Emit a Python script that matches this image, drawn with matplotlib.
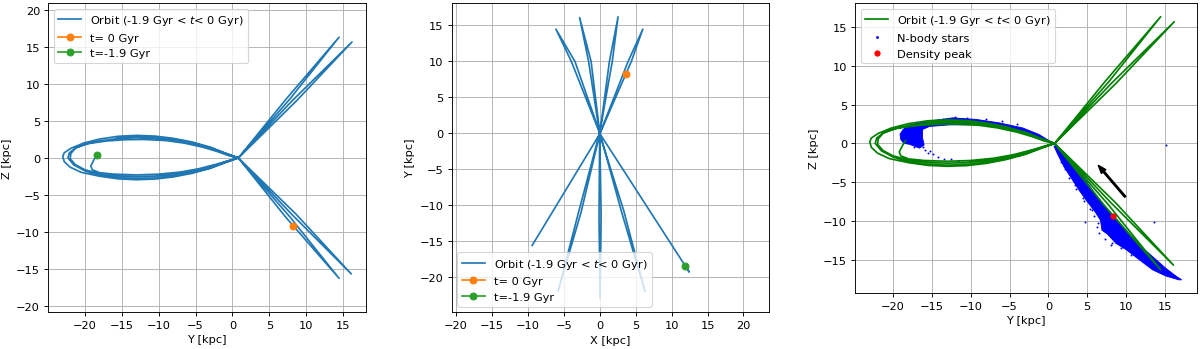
import matplotlib
matplotlib.use("Agg")
import matplotlib.pyplot as plt
from matplotlib.lines import Line2D

# ---------------- data ----------------
# Orbit projected on the Y-Z plane (kpc), in time order
orbit_yz_y = [
    # start hook + lower branch into the centre
    -18.4, -18.8, -19.2, -19.0, -18.0, -16.0, -13.0, -10.0, -7.0, -4.5, -2.0, 0.0, 0.8,
    # first excursion to Y>0, Z>0
    7.3, 14.45, 7.8, 0.85,
    # loop 1 (out lower, back upper)
    -1.0, -3.0, -5.5, -8.0, -10.5, -13.0, -15.5, -18.0, -20.0, -21.3, -22.0,
    -21.9, -21.3, -20.0, -18.0, -15.5, -13.0, -10.5, -8.0, -5.5, -3.0, -1.0, 0.8,
    # excursion to Y>0, Z<0
    8.0, 16.1, 8.6, 0.8,
    # loop 2 (out upper, back lower)
    -1.0, -3.0, -5.5, -8.0, -10.5, -13.0, -15.5, -18.0, -20.2, -21.9, -22.8, -23.0,
    -22.8, -22.0, -20.5, -18.0, -15.5, -13.0, -10.5, -8.0, -5.5, -3.0, -1.0, 0.8,
    # excursion to Y>0, Z>0
    8.05, 16.2, 8.65, 0.8,
    # loop 3 (out lower, back upper)
    -1.0, -3.0, -5.5, -8.0, -10.5, -13.0, -15.5, -18.0, -20.0, -21.5, -22.3,
    -22.1, -21.2, -19.5, -17.0, -14.5, -12.0, -9.0, -6.5, -4.0, -2.0, -0.5, 0.8,
    # excursion to Y>0, Z<0 (passes the present position)
    7.2, 14.45, 7.8, 0.8,
    # final upper branch
    -1.0, -3.0, -5.5, -8.0, -10.5, -13.0, -15.6,
]
orbit_yz_z = [
    0.35, -0.3, -1.1, -1.6, -2.0, -2.2, -2.3, -2.2, -1.9, -1.45, -0.8, -0.2, 0.0,
    8.0, 16.35, 8.0, 0.05,
    -0.56, -1.22, -1.81, -2.22, -2.47, -2.55, -2.45, -2.14, -1.6, -0.9, -0.1,
    0.6, 1.3, 1.85, 2.3, 2.64, 2.75, 2.67, 2.39, 1.95, 1.32, 0.6, 0.0,
    -7.6, -15.7, -7.6, 0.0,
    0.67, 1.46, 2.17, 2.65, 2.96, 3.05, 2.93, 2.56, 2.0, 1.3, 0.7, 0.2,
    -0.5, -1.25, -1.95, -2.48, -2.83, -2.95, -2.86, -2.57, -2.09, -1.42, -0.65, 0.0,
    7.7, 15.7, 7.7, 0.0,
    -0.62, -1.34, -1.99, -2.44, -2.72, -2.8, -2.69, -2.35, -1.75, -0.95, 0.0,
    0.7, 1.4, 1.95, 2.3, 2.47, 2.5, 2.35, 2.0, 1.45, 0.85, 0.3, 0.0,
    -8.0, -16.3, -8.0, 0.0,
    0.64, 1.39, 2.06, 2.52, 2.81, 2.9, 2.8,
]

# Orbit projected on the X-Y plane (kpc), in time order
orbit_xy_x = [11.9, 12.45, 0.05,
              -3.95, -6.1, -3.45, 0.0,
              3.0, 6.3, 3.35, 0.0,
              -1.55, -2.8, -1.2, 0.0,
              -0.1, 0.05, 0.2, 0.0,
              1.35, 2.55, 1.75, 0.0,
              -2.95, -5.8, -2.6, 0.0,
              4.4, 6.0, 3.95, 0.0,
              -9.4]
orbit_xy_y = [-18.4, -19.3, -0.1,
              10.0, 14.5, 10.0, 0.1,
              -10.8, -22.0, -10.8, -0.1,
              10.0, 16.1, 10.0, 0.1,
              -11.5, -23.0, -11.5, -0.1,
              10.0, 16.2, 10.0, 0.1,
              -11.0, -22.0, -11.0, -0.1,
              10.0, 14.5, 10.0, -0.1,
              -15.6]

# Present-day (t=0) and initial (t=-1.9 Gyr) positions
now_x, now_y, now_z = 3.6, 8.2, -9.2
start_x, start_y, start_z = 11.9, -18.4, 0.35

# N-body stream: dense regions (outlines in Y-Z) and individual sparse stars
stream_lead_y = [0.7, 1.2, 2.0, 3.1, 4.0, 5.0, 6.0, 6.7, 6.9, 7.6, 8.7, 10.0, 11.7, 13.4,
                 15.1, 16.8, 17.15,
                 16.4, 15.1, 13.4, 11.7, 10.2, 9.15, 8.1, 7.0, 5.75, 4.5, 3.2, 2.1, 1.3]
stream_lead_z = [-0.3, -1.4, -3.0, -4.7, -6.1, -7.5, -8.8, -9.9, -11.2, -11.7, -12.9,
                 -13.7, -15.0, -16.3, -17.1, -17.6, -17.6,
                 -17.1, -16.1, -14.6, -13.1, -11.6, -10.3, -9.1, -7.8, -6.1, -4.4, -2.9,
                 -1.6, -0.55]
stream_trail_y = [0.5, -1.2, -3.3, -6.3, -9.3, -12.3, -14.9, -17.9, -18.7, -19.1, -19.0,
                  -18.6, -17.9, -16.6, -16.0, -16.2, -16.2, -15.3, -12.7, -9.3, -5.5,
                  -2.5, -0.3]
stream_trail_z = [0.1, 1.15, 2.0, 2.65, 3.1, 3.3, 2.95, 2.4, 1.8, 1.2, 0.5,
                  0.0, -0.1, -0.6, -0.2, 0.7, 1.8, 2.2, 2.4, 2.4, 2.0,
                  1.4, 0.3]
stars_y = [15.2, 13.6, 4.7,
           2.7, 3.4, 4.4, 5.3, 5.9, 6.2, 6.5, 8.0, 1.6, 2.2,
           3.6, 4.6, 5.6, 6.4, 7.3, 8.2, 9.3, 10.6,
           -15.5, -14.9, -15.9, -16.2, -14.2, -13.4, -12.5, -11.7, -11.0, -15.2,
           -12.0, -10.5, -8.0, -6.0, -4.0, -13.6, -17.3]
stars_z = [-0.2, -10.2, -10.1,
           -4.4, -5.3, -7.0, -8.4, -9.4, -10.8, -11.6, -13.1, -2.4, -3.3,
           -5.9, -7.4, -8.6, -10.3, -12.3, -12.8, -13.5, -14.4,
           -1.2, -1.4, -0.9, -0.4, -1.7, -2.0, -2.05, -2.3, -2.35, -1.0,
           3.45, 3.3, 3.2, 2.9, 2.5, 3.2, -0.5]

peak_y, peak_z = 8.35, -9.3
arrow_from = (9.9, -6.9)
arrow_to = (6.4, -2.8)

orbit_label = "Orbit (-1.9 Gyr < $t$< 0 Gyr)"

# ---------------- figure ----------------
plt.rcParams["font.size"] = 10
dpi = 81.6
fig = plt.figure(figsize=(1200 / dpi, 350 / dpi), dpi=dpi)

ax1 = fig.add_axes([0.040, 0.106, 0.265, 0.883])
ax2 = fig.add_axes([0.3764, 0.105, 0.2647, 0.883])
ax3 = fig.add_axes([0.7125, 0.160, 0.2848, 0.828])

# Panel 1: Y-Z
ax1.plot(orbit_yz_y, orbit_yz_z, color="C0", label=orbit_label)
ax1.plot([now_y], [now_z], "o-", color="C1", label="t= 0 Gyr")
ax1.plot([start_y], [start_z], "o-", color="C2", label="t=-1.9 Gyr")
ax1.set_xlim(-25.0, 18.1)
ax1.set_ylim(-20.85, 21.0)
ax1.set_xticks(range(-20, 16, 5))
ax1.set_yticks(range(-20, 21, 5))
ax1.set_xlabel("Y [kpc]")
ax1.set_ylabel("Z [kpc]")
ax1.grid(True)
ax1.legend(loc="upper left")

# Panel 2: X-Y
ax2.plot(orbit_xy_x, orbit_xy_y, color="C0", label=orbit_label)
ax2.plot([now_x], [now_y], "o-", color="C1", label="t= 0 Gyr")
ax2.plot([start_x], [start_y], "o-", color="C2", label="t=-1.9 Gyr")
ax2.set_xlim(-20.6, 23.6)
ax2.set_ylim(-24.9, 18.1)
ax2.set_xticks(range(-20, 21, 5))
ax2.set_yticks(range(-20, 16, 5))
ax2.set_xlabel("X [kpc]")
ax2.set_ylabel("Y [kpc]")
ax2.grid(True)
ax2.legend(loc="lower left")

# Panel 3: Y-Z with N-body stream
ax3.fill(stream_lead_y, stream_lead_z, color="blue", lw=0.8, zorder=2)
ax3.fill(stream_trail_y, stream_trail_z, color="blue", lw=0.8, zorder=2)
ax3.scatter(stars_y, stars_z, s=3, color="blue", lw=0, zorder=2)
ax3.plot(orbit_yz_y, orbit_yz_z, color="green", zorder=3)
ax3.scatter([peak_y], [peak_z], s=20, color="red", zorder=4)
ax3.arrow(arrow_from[0], arrow_from[1], arrow_to[0] - arrow_from[0], arrow_to[1] - arrow_from[1],
          width=0.22, head_width=0.8, head_length=1.1, length_includes_head=True,
          color="black", zorder=5)
ax3.set_xlim(-24.9, 19.1)
ax3.set_ylim(-19.3, 18.1)
ax3.set_xticks(range(-20, 16, 5))
ax3.set_yticks(range(-15, 16, 5))
ax3.set_xlabel("Y [kpc]")
ax3.set_ylabel("Z [kpc]")
ax3.grid(True)
handles = [
    Line2D([], [], color="green"),
    Line2D([], [], ls="", marker="o", ms=1.5, color="blue"),
    Line2D([], [], ls="", marker="o", ms=4.5, color="red"),
]
ax3.legend(handles, [orbit_label, "N-body stars", "Density peak"], loc="upper left")

fig.savefig("out.png", dpi=dpi)
